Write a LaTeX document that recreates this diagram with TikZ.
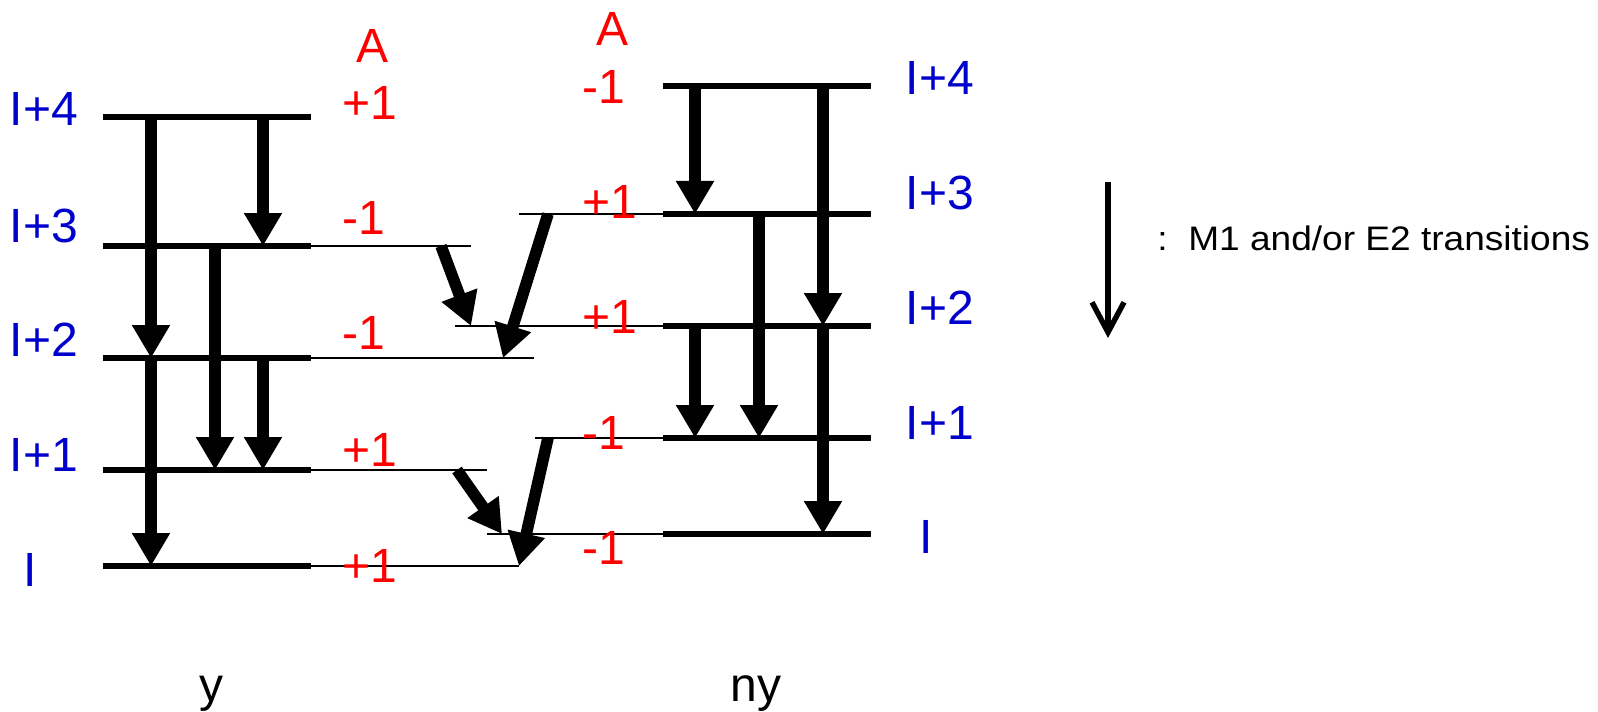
\documentclass[tikz,border=0pt]{standalone}
\usepackage{fontspec}
\setmainfont{Liberation Sans}
\usetikzlibrary{arrows.meta}

\definecolor{spinblue}{RGB}{0,0,204}

\tikzset{
    level/.style={line width=2.8pt},
    feed/.style={line width=1.1pt},
    trans/.style={line width=5.8pt, -{Triangle[length=16.5pt,width=18pt]}},
    spinlab/.style={text=spinblue, inner sep=0pt, font=\fontsize{24}{28}\selectfont},
    siglab/.style={text=red, inner sep=0pt, font=\fontsize{24}{28}\selectfont},
    bandlab/.style={inner sep=0pt, anchor=base, font=\fontsize{24}{28}\selectfont}
}

\begin{document}
\begin{tikzpicture}[x=0.5pt, y=-0.5pt]
    \useasboundingbox (0,0) rectangle (1598,711);

    % --- Left band (y): levels and their feeding lines ---
    \foreach \n/\y in {4/117,3/246,2/358,1/470,0/566} {
        \coordinate (y\n) at (103,\y);
        \draw[level] (y\n) -- ++(208,0) coordinate (ye\n);
    }
    \foreach \n/\x in {3/471,2/534,1/487,0/519}
        \draw[feed] (ye\n) -- (\x,0 |- ye\n);

    % --- Right band (ny): levels and their feeding lines ---
    \foreach \n/\y in {4/86,3/214,2/326,1/438,0/534} {
        \coordinate (n\n) at (663,\y);
        \draw[level] (n\n) -- ++(208,0);
    }
    \foreach \n/\x in {3/519,2/455,1/535,0/487}
        \draw[feed] (\x,0 |- n\n) -- (n\n);

    % --- In-band transitions ---
    \foreach \x/\a/\b in {151/y4/y2, 151/y2/y0, 215/y3/y1, 263/y4/y3, 263/y2/y1}
        \draw[trans] (\x,0 |- \a) -- (\x,0 |- \b);
    \foreach \x/\a/\b in {695/n4/n3, 823/n4/n2, 823/n2/n0, 759/n3/n1, 695/n2/n1}
        \draw[trans] (\x,0 |- \a) -- (\x,0 |- \b);

    % --- Cross transitions between the bands ---
    \draw[trans] (441,0 |- y3) -- (471,0 |- n2);
    \draw[trans] (548,0 |- n3) -- (503,0 |- y2);
    \draw[trans] (457,0 |- y1) -- (502,0 |- n0);
    \draw[trans] (548,0 |- n1) -- (519,0 |- y0);

    % --- Spin labels ---
    \node[spinlab] (sy4) at (44,109) {I+4};
    \node[spinlab] (sy3) at (44,226) {I+3};
    \node[spinlab] (sy2) at (44,340) {I+2};
    \node[spinlab] (sy1) at (44,455) {I+1};
    \node[spinlab] (sy0) at (30,570) {I};
    \node[spinlab] (sn4) at (940,78) {I+4};
    \node[spinlab] (sn3) at (940,193) {I+3};
    \node[spinlab] (sn2) at (940,308) {I+2};
    \node[spinlab] (sn1) at (940,423) {I+1};
    \node[spinlab] (sn0) at (926,537) {I};

    % --- Signature labels ---
    \node[siglab] (ay) at (373,46) {A};
    \node[siglab] (ay4) at (370,103) {+1};
    \node[siglab] (ay3) at (364,218) {-1};
    \node[siglab] (ay2) at (364,333) {-1};
    \node[siglab] (ay1) at (370,450) {+1};
    \node[siglab] (ay0) at (370,566) {+1};
    \node[siglab] (an) at (612,29) {A};
    \node[siglab] (an4) at (604,87) {-1};
    \node[siglab] (an3) at (610,202) {+1};
    \node[siglab] (an2) at (610,317) {+1};
    \node[siglab] (an1) at (604,433) {-1};
    \node[siglab] (an0) at (604,548) {-1};

    % --- Band names ---
    \node[bandlab] (yband) at (211,701) {y};
    \node[bandlab] (nyband) at (756,701) {ny};

    % --- Legend ---
    \coordinate (legtop) at (1108,182);
    \coordinate (legbot) at (1108,338);
    \draw[line width=2.7pt, -{Straight Barb[length=15pt,width=16pt]}] (legtop) -- (legbot);
    \node[inner sep=0pt, anchor=base west, font=\fontsize{17}{20}\selectfont] (legtext)
        at (1157,250) {\scalebox{1.09}[1]{:\ \ M1 and/or E2 transitions}};
\end{tikzpicture}
\end{document}
